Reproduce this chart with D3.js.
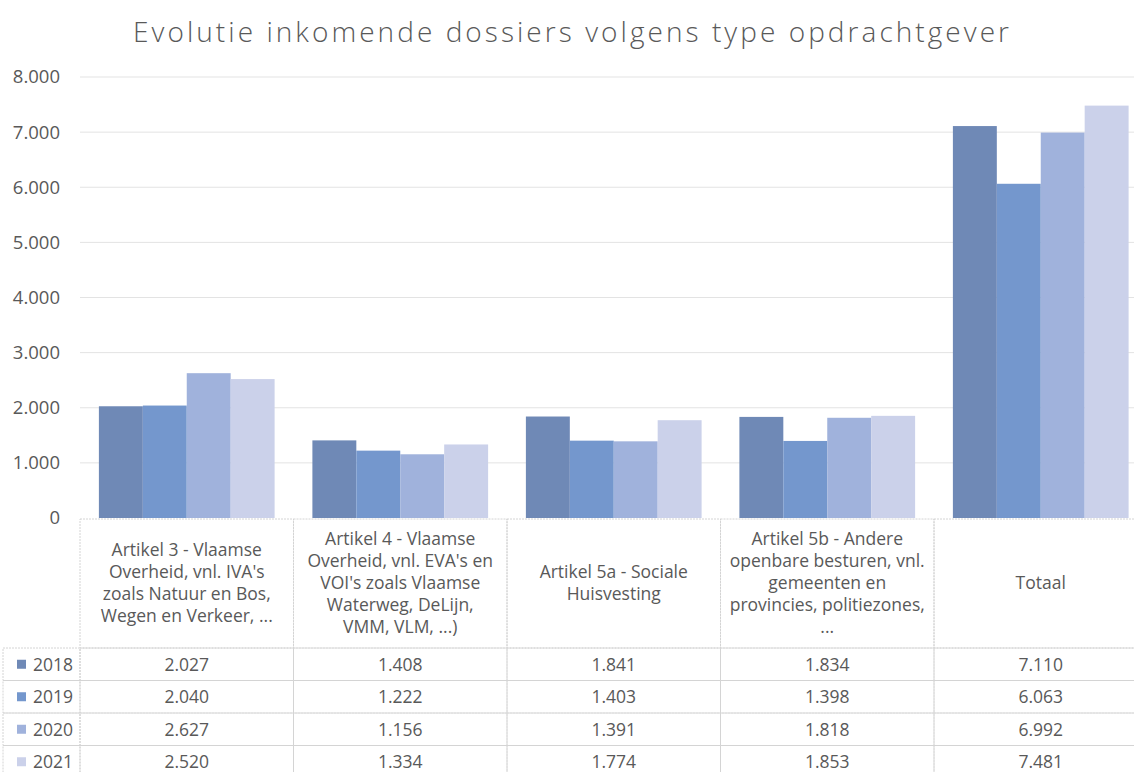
<!DOCTYPE html>
<html>
<head>
<meta charset="utf-8">
<style>
  body { margin: 0; background: #fff; font-family: "Open Sans", sans-serif; }
  text { fill: #595959; }
  .grid line { stroke: #e3e3e3; stroke-width: 1px; }
  .cell { stroke: #d4d4d4; stroke-width: 1px; stroke-dasharray: 2 1; fill: none; }
</style>
<script src="https://cdn.jsdelivr.net/npm/d3@7"></script>
</head>
<body>
<script>
// data
const categories = ["Artikel 3", "Artikel 4", "Artikel 5a", "Artikel 5b", "Totaal"];
const categoryLines = [
  ["Artikel 3 - Vlaamse", "Overheid, vnl. IVA's", "zoals Natuur en Bos,", "Wegen en Verkeer, ..."],
  ["Artikel 4 - Vlaamse", "Overheid, vnl. EVA's en", "VOI's zoals Vlaamse", "Waterweg, DeLijn,", "VMM, VLM, ...)"],
  ["Artikel 5a - Sociale", "Huisvesting"],
  ["Artikel 5b - Andere", "openbare besturen, vnl.", "gemeenten en", "provincies, politiezones,", "..."],
  ["Totaal"]
];
const years = ["2018", "2019", "2020", "2021"];
const v2018 = [2027, 1408, 1841, 1834, 7110];
const v2019 = [2040, 1222, 1403, 1398, 6063];
const v2020 = [2627, 1156, 1391, 1818, 6992];
const v2021 = [2520, 1334, 1774, 1853, 7481];
const yTicks = [0, 1000, 2000, 3000, 4000, 5000, 6000, 7000, 8000];
const colors = ["#6f89b6", "#7497cd", "#a0b2dc", "#cbd1ea"];

const series = [v2018, v2019, v2020, v2021];

const width = 1134, height = 772;
const nl = d3.formatLocale({decimal: ",", thousands: ".", grouping: [3], currency: ["€", ""]});
const fmt = nl.format(",d");

const svg = d3.select("body").append("svg")
    .attr("width", width)
    .attr("height", height);

// title
svg.append("text")
    .attr("x", 571)
    .attr("y", 42)
    .attr("text-anchor", "middle")
    .attr("textLength", 876)
    .style("font-size", "28px")
    .style("font-weight", 300)
    .text("Evolutie inkomende dossiers volgens type opdrachtgever");

const x0 = d3.scaleBand()
    .domain(categories)
    .range([80, 80 + 5 * 213.5]);

const x1 = d3.scaleBand()
    .domain(years)
    .range([0, x0.bandwidth()])
    .paddingOuter(0.43);

const y = d3.scaleLinear()
    .domain([0, 8000])
    .range([518, 77]);

// gridlines
svg.append("g").attr("class", "grid")
  .selectAll("line")
  .data(yTicks.slice(1))
  .join("line")
    .attr("x1", 80).attr("x2", width)
    .attr("y1", d => y(d)).attr("y2", d => y(d));

// y axis labels
const yAxis = d3.axisLeft(y).tickValues(yTicks).tickFormat(fmt).tickSize(0).tickPadding(20);
const ya = svg.append("g").attr("transform", "translate(80,0)").call(yAxis);
ya.select(".domain").remove();
ya.selectAll("text")
    .style("font-size", "18.5px")
    .attr("fill", "#595959")
    .attr("font-family", "'Open Sans', sans-serif");

// bars
const groups = svg.append("g").selectAll("g")
  .data(categories)
  .join("g")
    .attr("transform", d => `translate(${x0(d)},0)`);

groups.selectAll("rect")
  .data((d, i) => years.map((yr, j) => ({yr: yr, v: series[j][i], j: j})))
  .join("rect")
    .attr("x", d => x1(d.yr))
    .attr("width", x1.bandwidth())
    .attr("y", d => y(d.v))
    .attr("height", d => y(0) - y(d.v))
    .attr("fill", d => colors[d.j]);

// data table
const headTop = 519, headBottom = 648, rowH = 32.5;
const tableLeft = 3;
const tbl = svg.append("g");

// header cells
categories.forEach((c, i) => {
  const cx = x0(c);
  tbl.append("rect").attr("class", "cell")
    .attr("x", cx).attr("y", headTop)
    .attr("width", x0.bandwidth()).attr("height", headBottom - headTop);
  const lines = categoryLines[i];
  const lh = 22;
  const midY = (headTop + headBottom) / 2 - 1;
  const t = tbl.append("text")
    .attr("text-anchor", "middle")
    .style("font-size", "17.5px");
  lines.forEach((ln, k) => {
    t.append("tspan")
      .attr("x", cx + x0.bandwidth() / 2)
      .attr("y", midY + (k - (lines.length - 1) / 2) * lh + 6)
      .text(ln);
  });
});

// rows
years.forEach((yr, j) => {
  const ry = headBottom + j * rowH;
  tbl.append("rect").attr("class", "cell")
    .attr("x", tableLeft).attr("y", ry)
    .attr("width", 80 - tableLeft).attr("height", rowH);
  tbl.append("rect")
    .attr("x", 17).attr("y", ry + rowH / 2 - 4.5)
    .attr("width", 9).attr("height", 9)
    .attr("fill", colors[j]);
  tbl.append("text")
    .attr("x", 33).attr("y", ry + rowH / 2 + 6.5)
    .style("font-size", "17.5px")
    .text(yr);
  categories.forEach((c, i) => {
    tbl.append("rect").attr("class", "cell")
      .attr("x", x0(c)).attr("y", ry)
      .attr("width", x0.bandwidth()).attr("height", rowH);
    tbl.append("text")
      .attr("x", x0(c) + x0.bandwidth() / 2)
      .attr("y", ry + rowH / 2 + 6.5)
      .attr("text-anchor", "middle")
      .style("font-size", "17.5px")
      .text(fmt(series[j][i]));
  });
});
</script>
</body>
</html>
